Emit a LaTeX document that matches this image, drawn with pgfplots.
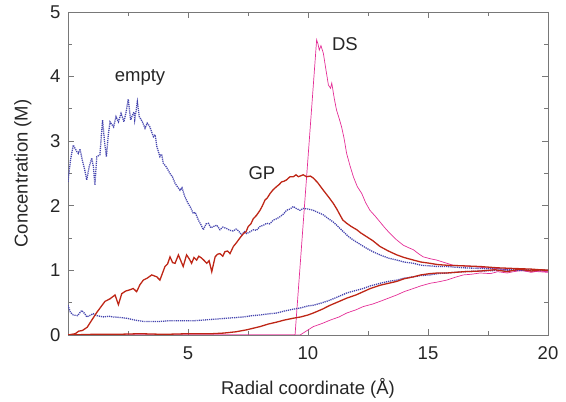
\documentclass[border=0pt]{standalone}
\usepackage{pgfplots}
\pgfplotsset{compat=1.18}
\usepackage{fontspec}
\setmainfont{Liberation Sans}
\definecolor{cblue}{RGB}{70,70,175}
\definecolor{cred}{RGB}{190,38,22}
\definecolor{cpink}{RGB}{228,45,150}
\definecolor{cframe}{RGB}{120,120,120}
\begin{document}
\begin{tikzpicture}
\begin{axis}[
  scale only axis, width=480bp, height=323bp,
  xmin=0, xmax=20, ymin=0, ymax=5,
  xtick={5,10,15,20}, minor xtick={0,2.5,7.5,12.5,17.5},
  ytick={0,1,2,3,4,5}, minor ytick={0.5,1.5,2.5,3.5,4.5},
  tick align=inside, tick pos=both,
  major tick length=6bp, minor tick length=4bp,
  axis line style={cframe, line width=0.8pt},
  every tick/.style={cframe, line width=0.8pt},
  tick label style={font=\fontsize{18.5bp}{21bp}\selectfont, text=black!85},
  label style={font=\fontsize{18.5bp}{21bp}\selectfont, text=black!85},
  xticklabel style={yshift=-8bp},
  yticklabel style={xshift=-4bp},
  /pgf/number format/assume math mode=true,
  xlabel={Radial coordinate (Å)},
  ylabel={Concentration (M)},
  xlabel style={yshift=-12bp},
  ylabel style={yshift=12bp},
  clip=true,
]
% DS low
\addplot[cpink, line width=0.7pt] coordinates {
(0,0) (9.67,0) (10.22,0.13) (10.6,0.18) (10.92,0.23) (11.3,0.28) (11.61,0.34) (12.0,0.39) (12.3,0.44) (12.7,0.48) (13.0,0.52) (13.35,0.57) (13.7,0.62) (14.0,0.67) (14.39,0.72) (14.7,0.76) (15.08,0.80) (15.4,0.82) (15.78,0.85) (16.1,0.89) (16.47,0.93) (16.8,0.94) (17.17,0.96) (17.6,0.95) (17.9,0.98) (18.3,0.96) (18.56,0.98) (18.9,1.0) (19.3,0.97) (19.6,0.99) (20,0.98)};
% DS high
\addplot[cpink, line width=0.7pt] coordinates {
(0,0) (9.46,0) (10.36,4.57) (10.42,4.5) (10.47,4.41) (10.54,4.48) (10.64,4.36) (10.75,4.1) (10.85,3.87) (10.94,3.82) (10.99,3.9) (11.1,3.65) (11.19,3.48) (11.3,3.35) (11.4,3.22) (11.5,3.05) (11.61,2.81) (11.75,2.62) (11.89,2.45) (12.05,2.3) (12.24,2.19) (12.4,2.05) (12.58,1.93) (12.8,1.84) (13.0,1.75) (13.2,1.66) (13.42,1.57) (13.7,1.47) (13.97,1.39) (14.2,1.35) (14.39,1.32) (14.6,1.26) (14.8,1.21) (15.1,1.18) (15.36,1.16) (15.7,1.12) (16.05,1.08) (16.5,1.07) (16.89,1.06) (17.4,1.04) (17.86,1.03) (18.5,1.0) (19.2,0.99) (20,0.97)};
% empty low
\addplot[cblue, line width=1.3pt, dash pattern=on 1.2pt off 0.9pt] coordinates {
(0,0.46) (0.1,0.35) (0.22,0.31) (0.4,0.3) (0.57,0.38) (0.7,0.33) (0.78,0.28) (0.9,0.3) (1.05,0.33) (1.2,0.3) (1.47,0.28) (1.7,0.29) (1.89,0.28) (2.2,0.27) (2.44,0.26) (2.8,0.23) (3.14,0.21) (3.5,0.21) (3.83,0.21) (4.2,0.22) (4.53,0.22) (4.9,0.22) (5.22,0.22) (5.6,0.23) (5.92,0.24) (6.3,0.25) (6.61,0.26) (7.0,0.27) (7.31,0.28) (7.7,0.3) (8.0,0.31) (8.4,0.33) (8.7,0.34) (9.0,0.37) (9.39,0.4) (9.7,0.42) (10.0,0.45) (10.22,0.46) (10.6,0.5) (10.92,0.54) (11.3,0.6) (11.61,0.65) (12.0,0.69) (12.3,0.72) (12.6,0.76) (13.0,0.80) (13.35,0.83) (13.7,0.85) (14.0,0.88) (14.39,0.90) (14.7,0.92) (15.08,0.93) (15.4,0.95) (15.78,0.96) (16.47,0.98) (17.17,0.99) (18,1.0) (19,1.0) (20,1.0)};
% empty high
\addplot[cblue, line width=1.3pt, dash pattern=on 1.2pt off 0.9pt] coordinates {
(0,2.37) (0.1,2.7) (0.22,2.94) (0.35,2.85) (0.43,2.81) (0.5,2.88) (0.6,2.7) (0.7,2.55) (0.78,2.40) (0.88,2.6) (0.99,2.74) (1.06,2.6) (1.12,2.32) (1.2,2.76) (1.33,2.79) (1.44,3.33) (1.52,3.0) (1.6,2.76) (1.68,3.1) (1.75,3.30) (1.9,3.22) (2.0,3.38) (2.1,3.30) (2.21,3.43) (2.33,3.30) (2.42,3.45) (2.51,3.65) (2.61,3.33) (2.68,3.4) (2.75,3.45) (2.78,3.33) (2.89,3.61) (2.97,3.38) (3.1,3.3) (3.21,3.20) (3.3,3.28) (3.39,3.24) (3.48,3.15) (3.56,3.07) (3.63,3.1) (3.70,2.92) (3.83,2.76) (3.9,2.8) (3.97,2.66) (4.1,2.6) (4.25,2.50) (4.35,2.45) (4.46,2.35) (4.55,2.3) (4.67,2.24) (4.75,2.28) (4.87,2.14) (5.0,2.04) (5.1,1.98) (5.22,1.88) (5.3,1.9) (5.43,1.78) (5.55,1.7) (5.64,1.63) (5.75,1.72) (5.85,1.73) (5.95,1.66) (6.06,1.68) (6.2,1.7) (6.33,1.63) (6.45,1.67) (6.6,1.65) (6.75,1.62) (6.88,1.61) (7.0,1.64) (7.08,1.62) (7.24,1.55) (7.35,1.6) (7.44,1.57) (7.6,1.6) (7.72,1.63) (7.85,1.62) (8.0,1.68) (8.15,1.7) (8.28,1.73) (8.4,1.72) (8.56,1.78) (8.7,1.8) (8.83,1.83) (9.0,1.88) (9.1,1.93) (9.25,1.95) (9.39,1.99) (9.5,1.96) (9.67,1.93) (9.8,1.96) (10.0,1.95) (10.22,1.93) (10.4,1.9) (10.64,1.86) (10.85,1.8) (11.05,1.75) (11.25,1.68) (11.47,1.60) (11.7,1.52) (11.89,1.47) (12.1,1.42) (12.45,1.34) (12.7,1.29) (13.0,1.24) (13.35,1.19) (13.7,1.16) (14.0,1.13) (14.39,1.11) (14.7,1.08) (15.08,1.07) (15.4,1.06) (15.78,1.06) (16.5,1.04) (17.17,1.03) (18.0,1.02) (19.0,1.01) (20,1.0)};
% GP low
\addplot[cred, line width=1.3pt] coordinates {
(0,0) (1,0.01) (2,0.01) (3,0.02) (4,0.01) (5,0.02) (6,0.02) (6.5,0.03) (7.0,0.05) (7.44,0.08) (8.0,0.13) (8.35,0.17) (8.7,0.2) (9.0,0.23) (9.39,0.26) (9.7,0.28) (10.0,0.31) (10.22,0.34) (10.6,0.4) (10.92,0.46) (11.3,0.52) (11.61,0.57) (12.0,0.62) (12.3,0.67) (12.6,0.72) (13.0,0.77) (13.35,0.8) (13.7,0.83) (14.0,0.87) (14.39,0.9) (14.7,0.93) (15.08,0.95) (15.4,0.96) (15.78,0.96) (16.5,0.98) (17.17,0.99) (17.8,1.01) (18.3,0.98) (18.8,1.02) (19.3,0.99) (19.7,1.01) (20,1.0)};
% GP high
\addplot[cred, line width=1.3pt] coordinates {
(0,0.0) (0.3,0.02) (0.45,0.06) (0.6,0.07) (0.8,0.12) (0.99,0.23) (1.2,0.35) (1.4,0.45) (1.54,0.52) (1.75,0.56) (1.96,0.62) (2.1,0.47) (2.24,0.64) (2.4,0.68) (2.58,0.70) (2.72,0.72) (2.86,0.67) (3.0,0.78) (3.14,0.85) (3.3,0.88) (3.49,0.93) (3.7,0.90) (3.83,0.85) (4.04,1.06) (4.15,1.1) (4.25,1.21) (4.36,1.12) (4.46,1.11) (4.6,1.24) (4.7,1.15) (4.8,1.06) (4.94,1.24) (5.05,1.18) (5.15,1.11) (5.25,1.2) (5.36,1.16) (5.45,1.22) (5.57,1.19) (5.68,1.15) (5.78,1.11) (5.88,1.15) (5.99,0.98) (6.13,1.21) (6.23,1.25) (6.33,1.26) (6.45,1.22) (6.54,1.29) (6.65,1.3) (6.75,1.26) (6.89,1.37) (7.0,1.42) (7.1,1.47) (7.2,1.52) (7.31,1.57) (7.42,1.6) (7.51,1.68) (7.62,1.72) (7.72,1.80) (7.85,1.85) (8.0,1.93) (8.1,2.0) (8.21,2.09) (8.3,2.12) (8.42,2.19) (8.55,2.25) (8.7,2.30) (8.8,2.33) (8.9,2.37) (9.0,2.38) (9.1,2.40) (9.25,2.45) (9.39,2.45) (9.5,2.48) (9.6,2.45) (9.8,2.48) (9.94,2.45) (10.1,2.46) (10.22,2.43) (10.4,2.36) (10.64,2.24) (10.85,2.14) (11.05,2.04) (11.2,1.95) (11.33,1.86) (11.45,1.78) (11.61,1.73) (11.8,1.68) (12.03,1.63) (12.2,1.58) (12.45,1.52) (12.7,1.46) (13.0,1.37) (13.35,1.30) (13.7,1.24) (14.0,1.2) (14.39,1.16) (14.7,1.13) (15.08,1.11) (15.4,1.09) (15.78,1.08) (16.5,1.07) (17.17,1.06) (17.9,1.04) (18.56,1.03) (19.3,1.02) (20,1.0)};
\node[font=\fontsize{18.5bp}{21bp}\selectfont, text=black!85] at (axis cs:3.0,3.99) {empty};
\node[font=\fontsize{18.5bp}{21bp}\selectfont, text=black!85] at (axis cs:8.08,2.5) {GP};
\node[font=\fontsize{18.5bp}{21bp}\selectfont, text=black!85] at (axis cs:11.54,4.5) {DS};
\end{axis}
\path ([shift={(-68bp,-63bp)}]current axis.south west) rectangle ([shift={(18bp,12bp)}]current axis.north east);
\end{tikzpicture}
\end{document}
